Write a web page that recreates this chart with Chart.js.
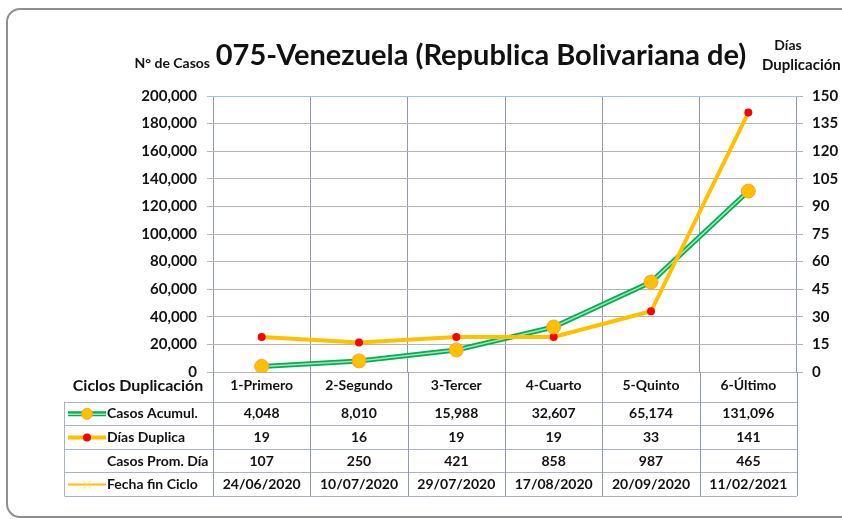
<!DOCTYPE html>
<html>
<head>
<meta charset="utf-8">
<script src="https://cdn.jsdelivr.net/npm/chart.js@4.4.1/dist/chart.umd.min.js"></script>
<style>
    html, body { margin: 0; padding: 0; background: #fff; overflow: hidden; }
    #wrap { position: relative; width: 842px; height: 519px; }
    #frame {
        position: absolute; left: 6px; top: 8px; width: 900px; height: 510px;
        border: 2px solid #8f8f8f; border-radius: 14px; box-sizing: border-box;
    }
    canvas { position: absolute; left: 0; top: 0; }
</style>
</head>
<body>
<div id="wrap">
    <div id="frame"></div>
    <canvas id="chart" width="842" height="519"></canvas>
</div>
<script>
// Data
const ciclos = ['1-Primero', '2-Segundo', '3-Tercer', '4-Cuarto', '5-Quinto', '6-Último'];
const casosAcumul = [4048, 8010, 15988, 32607, 65174, 131096];
const diasDuplica = [19, 16, 19, 19, 33, 141];
const casosPromDia = [107, 250, 421, 858, 987, 465];
const fechaFinCiclo = ['24/06/2020', '10/07/2020', '29/07/2020', '17/08/2020', '20/09/2020', '11/02/2021'];
const rowLabels = ['Casos Acumul.', 'Días Duplica', 'Casos Prom. Día', 'Fecha fin Ciclo'];

const colors = {
    green: '#00b050',
    greenLight: '#a6e3bb',
    orange: '#ffc000',
    orangeEdge: '#f4a43a',
    red: '#ff0000',
    grid: '#b4b4b4',
    vgrid: '#8e9aab',
    table: '#a9b3c1',
    topLine: '#9dc3e6',
    text: '#111'
};

const FONT = 'Lato, "Open Sans", sans-serif';
const fmt = v => v.toLocaleString('en-US');

// Title, axis captions and the data table below the plot
const extras = {
    id: 'extras',
    afterDraw(chart) {
        const c = chart.ctx;
        const x = chart.scales.x;
        const area = chart.chartArea;
        const half = (x.getPixelForValue(1) - x.getPixelForValue(0)) / 2;
        const rowTop = 401.5;
        const rowH = 23.6;
        const tableBottom = rowTop + rowH * 4;
        const tableLeft = 64.5;

        c.save();
        // title + captions
        c.fillStyle = colors.text;
        c.textBaseline = 'alphabetic';
        c.textAlign = 'center';
        c.font = 'bold 29px ' + FONT;
        c.fillText('075-Venezuela (Republica Bolivariana de)', 481, 65);
        c.font = 'bold 14px ' + FONT;
        c.textAlign = 'right';
        c.fillText('N° de Casos', 210, 68);
        c.textAlign = 'center';
        c.fillText('Días', 788, 50);
        c.textAlign = 'left';
        c.font = 'bold 15px ' + FONT;
        c.fillText('Duplicación', 762, 70);

        // table lines
        c.strokeStyle = colors.table;
        c.lineWidth = 1;
        c.beginPath();
        for (let r = 0; r <= 4; r++) {
            const y = Math.round(rowTop + rowH * r) + 0.5;
            c.moveTo(tableLeft, y);
            c.lineTo(area.right, y);
        }
        c.moveTo(tableLeft, rowTop);
        c.lineTo(tableLeft, tableBottom);
        c.stroke();
        c.strokeStyle = colors.vgrid;
        c.beginPath();
        for (let i = 0; i <= ciclos.length; i++) {
            const px = Math.round(x.getPixelForValue(0) - half + i * half * 2) + 0.5;
            c.moveTo(px, area.bottom);
            c.lineTo(px, tableBottom);
        }
        c.stroke();

        // header cell
        c.fillStyle = colors.text;
        c.font = 'bold 16px ' + FONT;
        c.textAlign = 'center';
        c.textBaseline = 'middle';
        c.fillText('Ciclos Duplicación', 138, 386);

        // row labels with legend keys
        const rows = [casosAcumul.map(fmt), diasDuplica.map(String), casosPromDia.map(String), fechaFinCiclo];
        rows.forEach((vals, r) => {
            const cy = rowTop + rowH * r + rowH / 2 + 0.5;
            // legend key
            if (r === 0) {
                c.strokeStyle = colors.green; c.lineWidth = 5;
                c.beginPath(); c.moveTo(68, cy); c.lineTo(106, cy); c.stroke();
                c.strokeStyle = colors.greenLight; c.lineWidth = 1.5;
                c.beginPath(); c.moveTo(68, cy + 0.5); c.lineTo(106, cy + 0.5); c.stroke();
                c.fillStyle = colors.orange; c.strokeStyle = colors.orangeEdge; c.lineWidth = 1;
                c.beginPath(); c.arc(87, cy, 5.5, 0, Math.PI * 2); c.fill(); c.stroke();
            } else if (r === 1) {
                c.strokeStyle = colors.orange; c.lineWidth = 4;
                c.beginPath(); c.moveTo(68, cy); c.lineTo(106, cy); c.stroke();
                c.fillStyle = colors.red;
                c.beginPath(); c.arc(87, cy, 4, 0, Math.PI * 2); c.fill();
            } else if (r === 3) {
                c.strokeStyle = colors.orange; c.lineWidth = 2;
                c.beginPath(); c.moveTo(68, cy); c.lineTo(106, cy); c.stroke();
                c.strokeStyle = '#ffd966'; c.lineWidth = 1;
                c.beginPath();
                c.moveTo(83, cy - 4); c.lineTo(91, cy + 4);
                c.moveTo(91, cy - 4); c.lineTo(83, cy + 4);
                c.stroke();
            }
            c.fillStyle = colors.text;
            c.font = 'bold 14px ' + FONT;
            c.textAlign = 'left';
            c.fillText(rowLabels[r], 107, cy);
            c.textAlign = 'center';
            vals.forEach((v, i) => c.fillText(v, x.getPixelForValue(i), cy));
        });
        c.restore();
    }
};

new Chart(document.getElementById('chart'), {
    type: 'line',
    data: {
        labels: ciclos,
        datasets: [
            {
                label: 'Casos Acumul. (markers)',
                data: casosAcumul,
                yAxisID: 'y',
                showLine: false,
                pointRadius: 7,
                pointBackgroundColor: colors.orange,
                pointBorderColor: colors.orangeEdge,
                pointBorderWidth: 1,
                order: 0
            },
            {
                label: 'Días Duplica',
                data: diasDuplica,
                yAxisID: 'y1',
                borderColor: colors.orange,
                borderWidth: 4,
                pointRadius: 4,
                pointBackgroundColor: colors.red,
                pointBorderWidth: 0,
                tension: 0,
                order: 1
            },
            {
                label: 'Casos Acumul. (stripe)',
                data: casosAcumul,
                yAxisID: 'y',
                borderColor: colors.greenLight,
                borderWidth: 1.5,
                pointRadius: 0,
                order: 2
            },
            {
                label: 'Casos Acumul.',
                data: casosAcumul,
                yAxisID: 'y',
                borderColor: colors.green,
                borderWidth: 5,
                pointRadius: 0,
                order: 3
            }
        ]
    },
    options: {
        responsive: false,
        animation: false,
        events: [],
        layout: { padding: { top: 96, bottom: 121, left: 0, right: 0 } },
        plugins: {
            legend: { display: false },
            title: { display: false },
            tooltip: { enabled: false }
        },
        scales: {
            x: {
                offset: true,
                afterFit: s => { s.height = 26; },
                grid: { offset: true, color: colors.vgrid, drawTicks: false },
                border: { display: false },
                ticks: { color: colors.text, font: { family: FONT, size: 14, weight: 'bold' }, padding: 5 }
            },
            y: {
                position: 'left',
                min: 0, max: 200000,
                afterFit: s => { s.width = 213; },
                ticks: {
                    stepSize: 20000,
                    color: colors.text,
                    padding: 10,
                    font: { family: FONT, size: 15, weight: 'bold' },
                    callback: v => fmt(v)
                },
                grid: {
                    color: ctx => (ctx.tick && ctx.tick.value === 200000) ? colors.topLine : colors.grid,
                    tickLength: 6
                },
                border: { display: false }
            },
            y1: {
                position: 'right',
                min: 0, max: 150,
                afterFit: s => { s.width = 45; },
                ticks: {
                    stepSize: 15,
                    color: colors.text,
                    padding: 9,
                    font: { family: FONT, size: 15, weight: 'bold' }
                },
                grid: { drawOnChartArea: false, color: colors.grid, tickLength: 6 },
                border: { display: false }
            }
        }
    },
    plugins: [extras]
});
</script>
</body>
</html>
